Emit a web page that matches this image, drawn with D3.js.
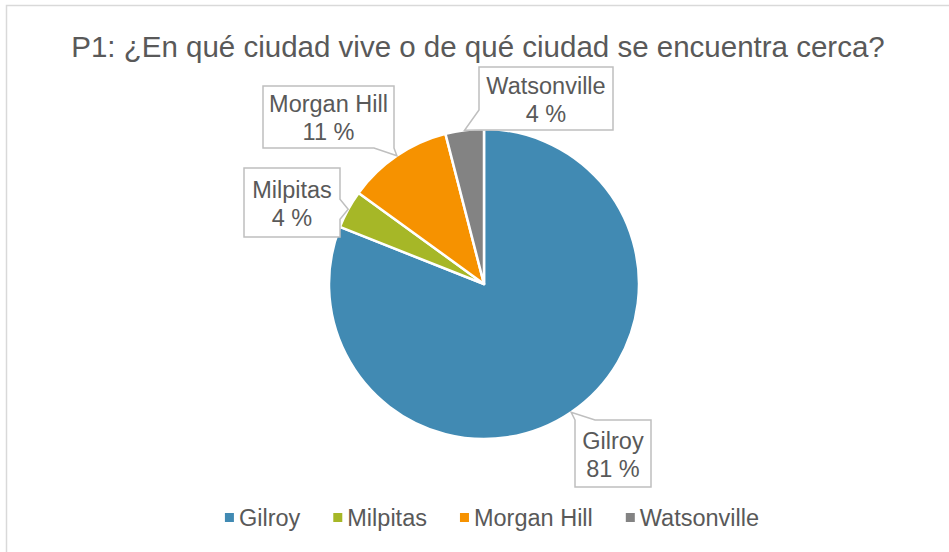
<!DOCTYPE html>
<html lang="es">
<head>
  <meta charset="UTF-8" />
  <title>P1: ciudad</title>
  <style>
    body { margin: 0; background: #fff; font-family: Arial, "Liberation Sans", sans-serif; }
    svg { display: block; }
  </style>
</head>
<body>
  <div id="chart"></div>
  <script src="https://d3js.org/d3.v7.min.js"></script>
  <script>
    const categories = ['Gilroy', 'Milpitas', 'Morgan Hill', 'Watsonville'];
    const percents = [81, 4, 11, 4];
    const colors = ['#418AB3', '#A6B727', '#F69200', '#838383'];
    const titleText = 'P1: ¿En qué ciudad vive o de qué ciudad se encuentra cerca?';

    // where each data-label box sits (same order as categories)
    const labelBoxes = [
      { x: 575, y: 420, w: 76, h: 67 },
      { x: 244, y: 168, w: 96, h: 69 },
      { x: 263, y: 86, w: 131, h: 62 },
      { x: 479, y: 67, w: 134, h: 63 }
    ];

    const width = 949;
    const height = 552;
    const cx = 484, cy = 284, radius = 155;
    const textColor = '#595959';

    const svg = d3.select('#chart')
      .append('svg')
      .attr('width', width)
      .attr('height', height);

    // chart frame (runs off the right/bottom edge)
    svg.append('rect')
      .attr('x', 6.5)
      .attr('y', 5.5)
      .attr('width', 1000)
      .attr('height', 600)
      .attr('fill', '#fff')
      .attr('stroke', '#d9d9d9')
      .attr('stroke-width', 1.5);

    svg.append('text')
      .attr('x', 478)
      .attr('y', 57)
      .attr('text-anchor', 'middle')
      .attr('fill', textColor)
      .style('font-size', '29.5px')
      .text(titleText);

    const pie = d3.pie().sort(null).value(d => d);
    const arcs = pie(percents);
    const arc = d3.arc().innerRadius(0).outerRadius(radius);

    const g = svg.append('g')
      .attr('transform', `translate(${cx},${cy})`);

    g.selectAll('path.slice')
      .data(arcs)
      .enter().append('path')
        .attr('class', 'slice')
        .attr('d', arc)
        .attr('fill', (d, i) => colors[i])
        .attr('stroke', '#fff')
        .attr('stroke-width', 2.5)
        .attr('stroke-linejoin', 'round');

    // callout box with a wedge pointing at p
    function calloutPath(b, p) {
      const x0 = b.x, y0 = b.y, x1 = b.x + b.w, y1 = b.y + b.h;
      const dl = x0 - p[0], dr = p[0] - x1, dt = y0 - p[1], db = p[1] - y1;
      const m = Math.max(dl, dr, dt, db);
      const hw = 10;
      const clamp = (v, a, c) => Math.max(a, Math.min(c, v));
      let pts;
      if (m === db) {
        const c = clamp(p[0], x0 + hw, x1 - hw);
        pts = [[x0, y0], [x1, y0], [x1, y1], [c + hw, y1], p, [c - hw, y1], [x0, y1]];
      } else if (m === dt) {
        const c = clamp(p[0], x0 + hw, x1 - hw);
        pts = [[x0, y0], [c - hw, y0], p, [c + hw, y0], [x1, y0], [x1, y1], [x0, y1]];
      } else if (m === dr) {
        const c = clamp(p[1], y0 + hw, y1 - hw);
        pts = [[x0, y0], [x1, y0], [x1, c - hw], p, [x1, c + hw], [x1, y1], [x0, y1]];
      } else {
        const c = clamp(p[1], y0 + hw, y1 - hw);
        pts = [[x0, y0], [x1, y0], [x1, y1], [x0, y1], [x0, c + hw], p, [x0, c - hw]];
      }
      return 'M' + pts.map(q => q.join(',')).join('L') + 'Z';
    }

    const labels = svg.append('g');
    arcs.forEach((d, i) => {
      const a = (d.startAngle + d.endAngle) / 2;
      const anchor = [cx + radius * Math.sin(a), cy - radius * Math.cos(a)];
      const b = labelBoxes[i];
      labels.append('path')
        .attr('d', calloutPath(b, anchor))
        .attr('fill', '#fff')
        .attr('stroke', '#bfbfbf')
        .attr('stroke-width', 1.5);
      const mid = b.y + b.h / 2;
      const t = labels.append('text')
        .attr('text-anchor', 'middle')
        .attr('fill', textColor)
        .style('font-size', '23.5px');
      t.append('tspan').attr('x', b.x + b.w / 2).attr('y', mid - 5).text(categories[i]);
      t.append('tspan').attr('x', b.x + b.w / 2).attr('y', mid + 23).text(percents[i] + ' %');
    });

    // legend
    const legend = svg.append('g');
    const sw = 9, gapText = 5, gapItem = 33, legendY = 526;
    const items = categories.map((c, i) => {
      const it = legend.append('g');
      it.append('rect')
        .attr('y', legendY - 13)
        .attr('width', sw)
        .attr('height', sw)
        .attr('fill', colors[i]);
      const tx = it.append('text')
        .attr('x', sw + gapText)
        .attr('y', legendY)
        .attr('fill', textColor)
        .style('font-size', '23.5px')
        .text(c);
      return { it, w: sw + gapText + tx.node().getComputedTextLength() };
    });
    const total = d3.sum(items, d => d.w) + gapItem * (items.length - 1);
    let lx = 492 - total / 2;
    items.forEach(d => {
      d.it.attr('transform', `translate(${lx},0)`);
      lx += d.w + gapItem;
    });
  </script>
</body>
</html>
